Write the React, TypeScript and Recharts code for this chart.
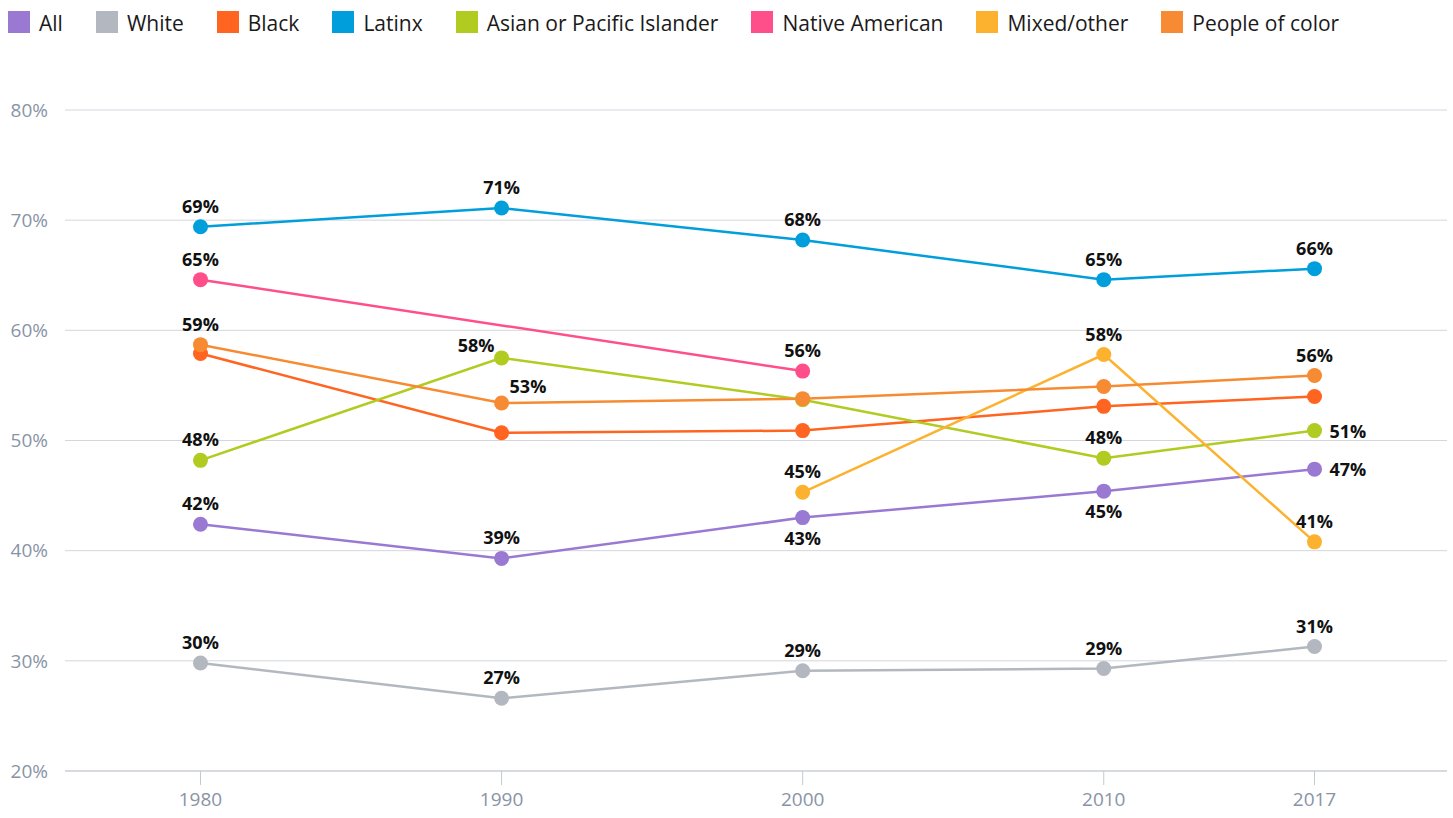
import { CartesianGrid, Line, LineChart, XAxis, YAxis } from "recharts";

const YEARS = [1980, 1990, 2000, 2010, 2017];
const Y_TICKS = [20, 30, 40, 50, 60, 70, 80];

const ALL = [42.4, 39.3, 43.0, 45.4, 47.4];
const WHITE = [29.8, 26.6, 29.1, 29.3, 31.3];
const BLACK = [57.9, 50.7, 50.9, 53.1, 54.0];
const LATINX = [69.4, 71.1, 68.2, 64.6, 65.6];
const ASIAN = [48.2, 57.5, 53.7, 48.4, 50.9];
const NATIVE = [64.6, null, 56.3, null, null];
const MIXED = [null, null, 45.3, 57.8, 40.8];
const POC = [58.7, 53.4, 53.8, 54.9, 55.9];

const SERIES = [
  { key: "all", name: "All", values: ALL, color: "#9a79d2" },
  { key: "white", name: "White", values: WHITE, color: "#b3b7bf" },
  { key: "black", name: "Black", values: BLACK, color: "#ff6420" },
  { key: "latinx", name: "Latinx", values: LATINX, color: "#009edb" },
  { key: "asian", name: "Asian or Pacific Islander", values: ASIAN, color: "#b1cb21" },
  { key: "native", name: "Native American", values: NATIVE, color: "#ff4f8a" },
  { key: "mixed", name: "Mixed/other", values: MIXED, color: "#fcb22f" },
  { key: "poc", name: "People of color", values: POC, color: "#f68b33" },
];

// where each point's value label sits (null = no label)
const LABEL_SPOTS: Record<string, (string | null)[]> = {
  all: ["top", "top", "bottom", "bottom", "right"],
  white: ["top", "top", "top", "top", "top"],
  black: [null, null, null, null, null],
  latinx: ["top", "top", "top", "top", "top"],
  asian: ["top", "topLeft", null, "top", "right"],
  native: ["top", null, "top", null, null],
  mixed: [null, null, "top", "top", "top"],
  poc: ["top", "topRight", null, null, "top"],
};

const data = YEARS.map((year, i) => {
  const row: Record<string, number | null> = { year };
  SERIES.forEach((s) => (row[s.key] = s.values[i]));
  return row;
});

const FONT = "'Open Sans', 'Noto Sans', sans-serif";
const axisTick = { fontSize: 19, fill: "#8894a6", fontFamily: FONT } as const;

function SpotLabel(props: any) {
  const { x, y, value, index, spots } = props;
  const spot = spots?.[index];
  if (!spot || value == null || x == null || y == null) return null;
  let tx = x;
  let ty = y - 14;
  let anchor: "start" | "middle" | "end" = "middle";
  if (spot === "bottom") ty = y + 27;
  if (spot === "right") {
    tx = x + 15;
    ty = y + 7;
    anchor = "start";
  }
  if (spot === "topLeft") {
    tx = x - 7;
    ty = y - 6;
    anchor = "end";
  }
  if (spot === "topRight") {
    tx = x + 8;
    ty = y - 10;
    anchor = "start";
  }
  return (
    <text
      x={tx}
      y={ty}
      textAnchor={anchor}
      fontSize={18}
      fontWeight={700}
      fill="#111"
      fontFamily={FONT}
    >
      {Math.round(value)}%
    </text>
  );
}

function ChartLegend() {
  return (
    <div
      style={{
        position: "absolute",
        top: 11,
        left: 8,
        display: "flex",
        alignItems: "center",
        fontSize: 21,
        lineHeight: "26px",
        color: "#1a1a1a",
        fontFamily: FONT,
        whiteSpace: "nowrap",
      }}
    >
      {SERIES.map((s) => (
        <div
          key={s.key}
          style={{ display: "flex", alignItems: "flex-start", marginRight: 33 }}
        >
          <span
            style={{
              width: 22,
              height: 22,
              background: s.color,
              marginRight: 9,
              display: "inline-block",
            }}
          />
          <span style={{ marginTop: -1 }}>{s.name}</span>
        </div>
      ))}
    </div>
  );
}

export default function App() {
  return (
    <div
      style={{
        position: "absolute",
        top: 0,
        left: 0,
        width: 1453,
        height: 818,
        background: "#fff",
      }}
    >
      <ChartLegend />
      <LineChart
        width={1453}
        height={818}
        data={data}
        margin={{ top: 110, right: 6, bottom: 0, left: 0 }}
      >
        <CartesianGrid vertical={false} stroke="#d3d6dc" />
        <XAxis
          dataKey="year"
          type="number"
          domain={[1975.5, 2021.4]}
          ticks={YEARS}
          allowDataOverflow
          height={47}
          axisLine={{ stroke: "#c5c9d0" }}
          tickLine={{ stroke: "#c5c9d0" }}
          tickSize={14}
          tickMargin={8}
          tick={axisTick}
        />
        <YAxis
          type="number"
          domain={[20, 80]}
          ticks={Y_TICKS}
          width={65}
          axisLine={false}
          tickLine={false}
          tickSize={0}
          tickMargin={17}
          tick={axisTick}
          tickFormatter={(v) => `${v}%`}
        />
        {SERIES.map((s) => (
          <Line
            key={s.key}
            dataKey={s.key}
            type="linear"
            stroke={s.color}
            strokeWidth={2.5}
            connectNulls
            dot={{ r: 7.5, fill: s.color, stroke: s.color, strokeWidth: 0 }}
            activeDot={false}
            isAnimationActive={false}
            label={(p: any) => <SpotLabel {...p} spots={LABEL_SPOTS[s.key]} />}
          />
        ))}
      </LineChart>
    </div>
  );
}
